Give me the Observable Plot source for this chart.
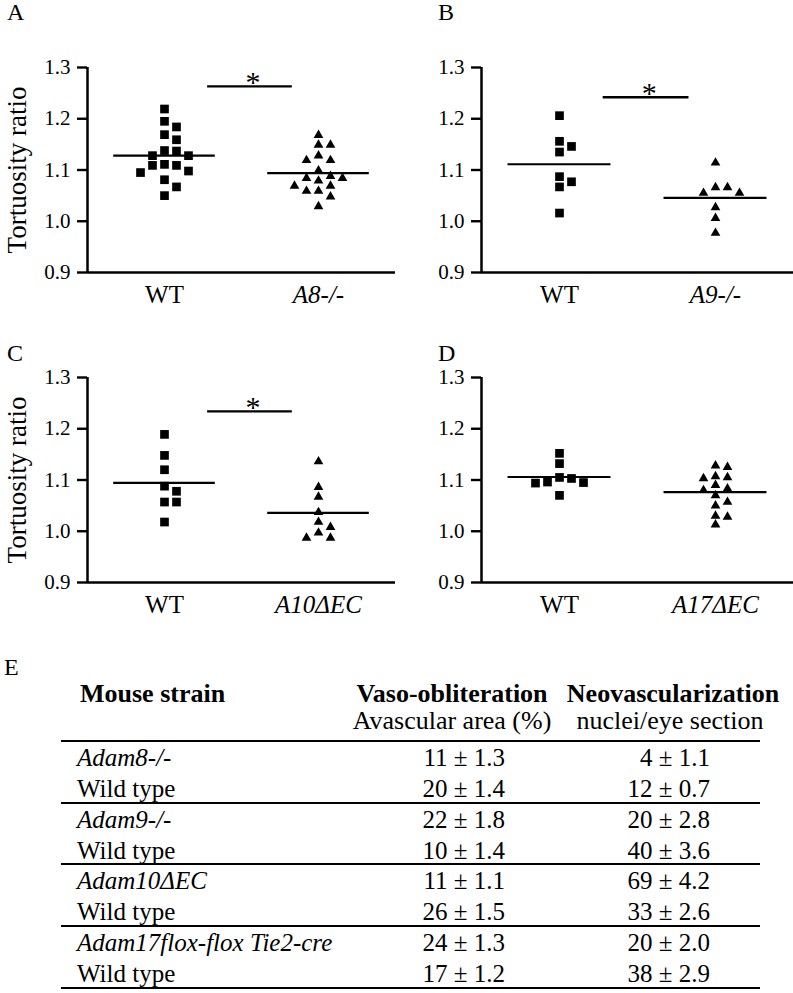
<!DOCTYPE html>
<html>
<head>
<meta charset="utf-8">
<script src="https://cdn.jsdelivr.net/npm/d3@7"></script>
<script src="https://cdn.jsdelivr.net/npm/@observablehq/plot@0.6"></script>
<style>
  body { margin: 0; background: #fff; }
  #fig { position: relative; width: 793px; height: 993px; background: #fff; overflow: hidden;
         font-family: "Liberation Serif", "Times New Roman", serif; color: #000; }
  .panel { position: absolute; }
  .panel svg { overflow: visible; font-family: "Liberation Serif", "Times New Roman", serif; }
  .panel svg g[aria-label^="y-axis"] path,
  .panel svg g[aria-label^="y-axis"] line { stroke-width: 2.4px; }
  .t { position: absolute; white-space: nowrap; }
  .hline { position: absolute; height: 0; border-top: 2.5px solid #000; }
</style>
</head>
<body>
<div id="fig"></div>
<script>
// ---------------- DATA ----------------
const yTicks = [0.9, 1.0, 1.1, 1.2, 1.3];
const yAxisTitle = "Tortuosity ratio";

const wtA8 = [1.219, 1.195, 1.184, 1.169, 1.159, 1.138, 1.137, 1.128, 1.128, 1.111, 1.095, 1.109, 1.109, 1.098, 1.081, 1.067, 1.050];
const koA8 = [1.168, 1.149, 1.149, 1.128, 1.119, 1.119, 1.099, 1.088, 1.084, 1.084, 1.079, 1.069, 1.069, 1.059, 1.059, 1.048, 1.029];
const wtA9 = [1.206, 1.156, 1.146, 1.135, 1.087, 1.077, 1.067, 1.016];
const koA9 = [1.114, 1.066, 1.066, 1.055, 1.055, 1.027, 1.006, 0.977];
const wtA10 = [1.189, 1.148, 1.120, 1.088, 1.078, 1.057, 1.057, 1.018];
const koA10 = [1.136, 1.086, 1.067, 1.037, 1.018, 1.008, 0.997, 0.987, 0.987];
const wtA17 = [1.152, 1.132, 1.105, 1.103, 1.096, 1.095, 1.094, 1.070];
const koA17 = [1.128, 1.125, 1.107, 1.105, 1.103, 1.090, 1.083, 1.080, 1.070, 1.057, 1.050, 1.030, 1.028, 1.013];

const panelLetters = ["A", "B", "C", "D"];
const groupLabels = [["WT", "A8-/-"], ["WT", "A9-/-"], ["WT", "A10ΔEC"], ["WT", "A17ΔEC"]];
const sigBarY = [1.263, 1.242, 1.234, null];   // significance bar heights (null = none)
const sigText = "*";

// Table E
const tableLetter = "E";
const colHeads = ["Mouse strain", "Vaso-obliteration", "Neovascularization"];
const colSubHeads = ["", "Avascular area (%)", "nuclei/eye section"];
const strains = ["Adam8-/-", "Wild type", "Adam9-/-", "Wild type", "Adam10ΔEC", "Wild type", "Adam17flox-flox Tie2-cre", "Wild type"];
const strainItalic = [true, false, true, false, true, false, true, false];
const vasoMean = [11, 20, 22, 10, 11, 26, 24, 17];
const vasoSE = [1.3, 1.4, 1.8, 1.4, 1.1, 1.5, 1.3, 1.2];
const neoMean = [4, 12, 20, 40, 69, 33, 20, 38];
const neoSE = [1.1, 0.7, 2.8, 3.6, 4.2, 2.6, 2.0, 2.9];

// ---------------- LAYOUT ----------------
const serif = "'Liberation Serif','Times New Roman',serif";
const fig = document.getElementById("fig");
const PH = 310, MT = 67, MB = 38;
const PX_PER_Y = (PH - MT - MB) / (yTicks[yTicks.length - 1] - yTicks[0]);
const cols = [{left: 0, width: 396, ml: 87, mr: 1, letterX: 7}, {left: 396, width: 397, ml: 85, mr: 0, letterX: 438}];
const rows = [{top: 0, letterBase: 20}, {top: 310, letterBase: 361}];
const halfMean = 0.33, sigX = [0.78, 1.33];

function text(str, o) {
  const d = document.createElement("div");
  d.className = "t";
  const fs = o.size || 25;
  d.style.fontSize = fs + "px";
  d.style.lineHeight = fs + "px";
  d.style.top = (o.baseline - 0.8375 * fs) + "px";
  if (o.bold) d.style.fontWeight = "bold";
  if (o.italic) d.style.fontStyle = "italic";
  if (o.center != null) { d.style.left = (o.center - 200) + "px"; d.style.width = "400px"; d.style.textAlign = "center"; }
  else if (o.right != null) { d.style.left = (o.right - 400) + "px"; d.style.width = "400px"; d.style.textAlign = "right"; }
  else d.style.left = o.left + "px";
  d.textContent = str;
  fig.appendChild(d);
}

function swarm(values, center, pxPerX) {
  const boxW = 11, boxH = 8.5, step = 6;
  const placed = [];
  const order = d3.range(values.length).sort((a, b) => values[b] - values[a]);
  for (const i of order) {
    const yp = values[i] * PX_PER_Y;
    for (let k = 0; k < 60; k++) {
      const off = k === 0 ? 0 : (k % 2 ? 1 : -1) * Math.ceil(k / 2) * step;
      if (placed.every(p => Math.abs(p.yp - yp) >= boxH || Math.abs(p.off - off) >= boxW)) {
        placed.push({value: values[i], off, yp});
        break;
      }
    }
  }
  return placed.map(p => ({value: p.value, x: center + p.off / pxPerX}));
}

const groups = [[wtA8, koA8], [wtA9, koA9], [wtA10, koA10], [wtA17, koA17]];

groups.forEach(([wt, ko], i) => {
  const col = cols[i % 2], row = rows[Math.floor(i / 2)];
  const pxPerX = (col.width - col.ml - col.mr) / 2;
  const wtDots = swarm(wt, 0.5, pxPerX);
  const koDots = swarm(ko, 1.5, pxPerX);
  const means = [{c: 0.5, m: d3.mean(wt)}, {c: 1.5, m: d3.mean(ko)}];
  const marks = [
    Plot.ruleX([0], {strokeWidth: 2.5}),
    Plot.ruleY([yTicks[0]], {strokeWidth: 2.5}),
    Plot.dot(wtDots, {x: "x", y: "value", symbol: "square", r: 4.9, fill: "black"}),
    Plot.dot(koDots, {x: "x", y: "value", symbol: "triangle", r: 3.6, fill: "black"}),
    Plot.ruleY(means, {y: "m", x1: d => d.c - halfMean, x2: d => d.c + halfMean, strokeWidth: 2.2}),
    Plot.text([groupLabels[i][0]], {x: () => 0.5, y: () => yTicks[0], text: d => d, dy: 30, lineAnchor: "bottom", fontSize: 25, fontFamily: serif}),
    Plot.text([groupLabels[i][1]], {x: () => 1.5, y: () => yTicks[0], text: d => d, dy: 30, lineAnchor: "bottom", fontSize: 25, fontStyle: "italic", fontFamily: serif})
  ];
  if (sigBarY[i] != null) {
    const bar = [{y: sigBarY[i], x1: sigX[0], x2: sigX[1]}];
    marks.push(Plot.ruleY(bar, {y: "y", x1: "x1", x2: "x2", strokeWidth: 2.3}));
    marks.push(Plot.text(bar, {x: d => (d.x1 + d.x2) / 2 + 0.02, y: "y", text: () => sigText, lineAnchor: "bottom", dy: 6, fontSize: 30, fontFamily: serif}));
  }
  if (i % 2 === 0) {
    marks.push(Plot.text([yAxisTitle], {frameAnchor: "left", text: d => d, rotate: -90, textAnchor: "middle", lineAnchor: "bottom", dx: -(col.ml - 25), fontSize: 27, fontFamily: serif}));
  }
  const chart = Plot.plot({
    width: col.width, height: PH,
    marginLeft: col.ml, marginRight: col.mr, marginTop: MT, marginBottom: MB,
    x: {domain: [0, 2], axis: null},
    y: {domain: [yTicks[0], yTicks[yTicks.length - 1]], ticks: yTicks, tickSize: 10, tickPadding: 7,
        tickFormat: d3.format(".1f"), label: null},
    style: {fontFamily: serif, fontSize: "21px", color: "black", background: "transparent", overflow: "visible"},
    marks
  });
  const wrap = document.createElement("div");
  wrap.className = "panel";
  wrap.style.left = col.left + "px";
  wrap.style.top = row.top + "px";
  wrap.appendChild(chart);
  fig.appendChild(wrap);
  text(panelLetters[i], {left: col.letterX, baseline: row.letterBase, size: 24});
});

// ---------------- TABLE E ----------------
text(tableLetter, {left: 4, baseline: 675, size: 24});
text(colHeads[0], {left: 80, baseline: 703, size: 26, bold: true});
text(colHeads[1], {center: 452, baseline: 703, size: 26, bold: true});
text(colHeads[2], {center: 673, baseline: 703, size: 26, bold: true});
text(colSubHeads[1], {center: 452, baseline: 730, size: 26});
text(colSubHeads[2], {center: 670, baseline: 730, size: 26});

const lineYs = [741, 803, 864, 926, 988];
lineYs.forEach(y => {
  const l = document.createElement("div");
  l.className = "hline";
  l.style.left = "61px"; l.style.width = "699px"; l.style.top = (y - 1) + "px";
  fig.appendChild(l);
});
strains.forEach((s, r) => {
  const g = Math.floor(r / 2);
  const base = lineYs[g] + (r % 2 === 0 ? 25 : 56);
  text(s, {left: 77, baseline: base, size: 25, italic: strainItalic[r]});
  text(`${vasoMean[r]} ± ${vasoSE[r].toFixed(1)}`, {right: 505, baseline: base, size: 25});
  text(`${neoMean[r]} ± ${neoSE[r].toFixed(1)}`, {right: 710, baseline: base, size: 25});
});
</script>
</body>
</html>
